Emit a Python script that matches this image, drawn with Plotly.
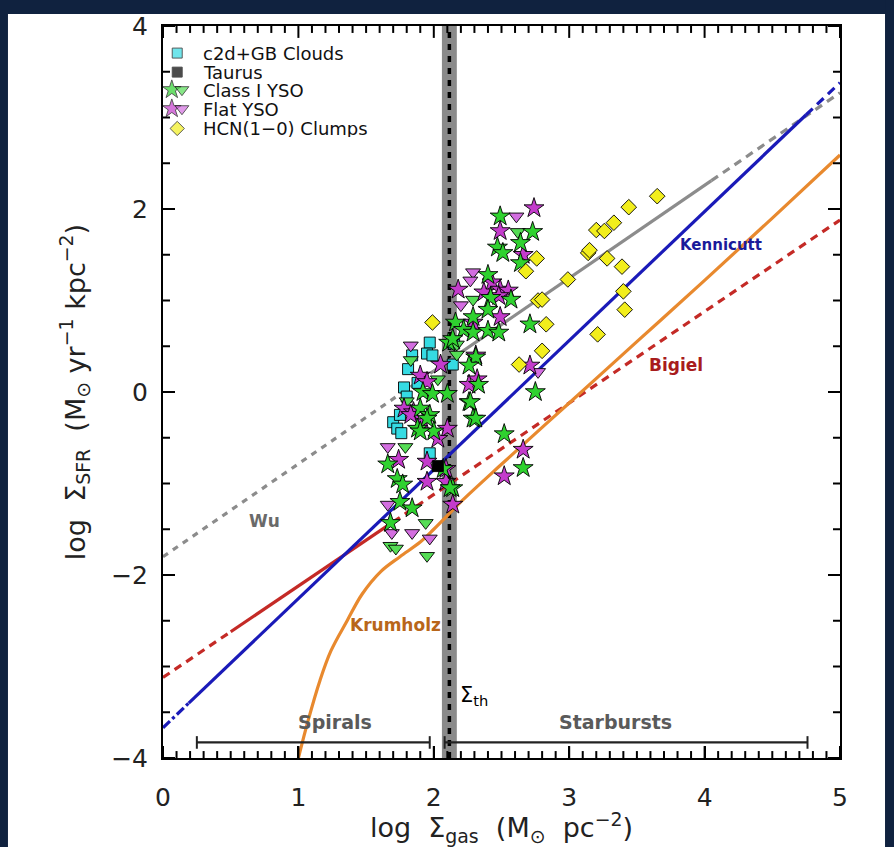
import plotly.graph_objects as go

# ---------------- data ----------------
# c2d+GB clouds (cyan squares)
c2d_x = [1.97, 1.95, 1.99, 1.81, 2.14, 1.78, 1.80, 1.70, 1.73, 1.76, 1.97, 2.15, 1.88, 1.75, 1.84]
c2d_y = [0.54, 0.42, 0.40, 0.25, 0.30, 0.05, -0.05, -0.33, -0.40, -0.45, -0.67, 0.53, 0.10, -0.25, 0.40]

# Taurus (black square)
taurus_x = [2.03]
taurus_y = [-0.81]

# Class I YSO - stars
c1s_x = [2.11, 2.31, 2.26, 2.33, 1.92, 1.99, 2.10, 2.26, 1.90, 1.97, 2.29, 1.88, 2.00, 1.95, 1.90,
         1.66, 2.07, 1.73, 1.77, 2.14, 1.75, 1.84, 1.68,
         2.49, 2.73, 2.47, 2.51, 2.64, 2.64, 2.40, 2.42, 2.57, 2.40, 2.29, 2.16, 2.22, 2.29, 2.40,
         2.48, 2.71, 2.14, 2.75, 2.27, 2.31, 2.52, 2.66, 2.12]
c1s_y = [0.54, 0.38, 0.29, 0.08, 0.00, -0.02, -0.02, -0.11, -0.18, -0.25, -0.29, -0.40, -0.43, -0.29, -0.43,
         -0.79, -0.84, -0.95, -1.01, -1.05, -1.20, -1.27, -1.43,
         1.92, 1.75, 1.58, 1.52, 1.63, 1.41, 1.28, 1.03, 1.01, 0.90, 0.82, 0.76, 0.68, 0.65, 0.67,
         0.65, 0.74, 0.58, 0.00, -0.11, -0.29, -0.46, -0.83, -1.05]

# Class I YSO - triangles
c1t_x = [1.83, 2.17, 2.17, 2.03, 2.62, 2.29, 1.79, 1.94, 1.68, 1.72, 1.95, 1.80]
c1t_y = [0.35, 0.52, 0.41, 0.14, 1.75, 1.01, -0.60, -1.43, -1.68, -1.71, -1.79, -0.10]

# Flat YSO - stars
fs_x = [2.05, 1.90, 1.95, 2.31, 2.32, 2.26, 1.78, 1.85, 1.92, 2.10, 1.83, 1.74, 1.95, 2.03, 1.95,
        2.09, 2.14, 2.74, 2.49, 2.66, 2.43, 2.49, 2.55, 2.18, 2.37, 2.48, 2.49, 2.29, 2.71, 2.66,
        2.52, 2.09]
fs_y = [0.30, 0.18, 0.11, 0.40, 0.14, 0.08, -0.18, -0.22, -0.33, -0.40, -0.25, -0.74, -0.76, -0.51, -0.98,
        -0.98, -1.23, 2.01, 1.76, 1.50, 1.20, 1.12, 1.11, 1.12, 1.09, 1.05, 0.82, 0.76, 0.29, -0.63,
        -0.92, -0.84]

# Flat YSO - triangles
ft_x = [1.83, 2.61, 2.29, 2.27, 2.20, 1.66, 1.66, 1.69, 1.84, 1.97, 2.77]
ft_y = [0.51, 1.92, 1.31, 1.22, 0.95, -0.60, -1.23, -1.54, -1.54, -1.60, 0.22]

# HCN(1-0) clumps (yellow diamonds)
hcn_x = [1.99, 2.63, 2.80, 2.83, 3.21, 3.41, 3.40, 2.77, 2.80, 2.99, 2.68, 2.76, 3.14, 3.15,
         3.28, 3.39, 3.20, 3.26, 3.33, 3.44, 3.65]
hcn_y = [0.76, 0.30, 0.45, 0.74, 0.63, 0.90, 1.10, 1.00, 1.01, 1.23, 1.32, 1.46, 1.52, 1.55,
         1.46, 1.37, 1.77, 1.76, 1.85, 2.02, 2.14]

# Relations (segment end points)
wu_dash1_x, wu_dash1_y = [0.0, 2.0], [-1.80, 0.23]
wu_solid_x, wu_solid_y = [2.0, 4.05], [0.23, 2.31]
wu_dash2_x, wu_dash2_y = [4.05, 5.0], [2.31, 3.27]

ken_dd_x, ken_dd_y = [0.0, 0.19], [-3.67, -3.40]
ken_solid_x, ken_solid_y = [0.19, 4.75], [-3.40, 3.03]
ken_dash_x, ken_dash_y = [4.75, 5.0], [3.03, 3.38]

big_dash1_x, big_dash1_y = [0.0, 0.5], [-3.12, -2.62]
big_solid_x, big_solid_y = [0.5, 1.7], [-2.62, -1.42]
big_dash2_x, big_dash2_y = [1.7, 5.0], [-1.42, 1.88]

kru_x = [1.00, 1.07, 1.16, 1.24, 1.36, 1.47, 1.61, 1.75, 1.90, 2.00, 2.10, 2.20, 2.50, 3.00, 3.50, 4.00, 4.50, 5.00]
kru_y = [-4.00, -3.60, -3.15, -2.83, -2.50, -2.21, -1.96, -1.80, -1.64, -1.50, -1.35, -1.20, -0.79, -0.12, 0.55, 1.22, 1.90, 2.59]

sigma_th_band = [2.06, 2.17]
sigma_th = 2.115
spirals_range = [0.25, 1.97]
starbursts_range = [2.08, 4.76]
range_y = -3.83

legend_labels = ["c2d+GB Clouds", "Taurus", "Class I YSO", "Flat YSO", "HCN(1\u22120) Clumps"]

# axis ranges / tick steps
X_RANGE, Y_RANGE = [0, 5], [-4, 4]
X_MAJOR, X_MINOR = 1, 0.1
Y_MAJOR, Y_MINOR = 2, 0.5

# ---------------- figure ----------------
FONT = "DejaVu Sans"
fig = go.Figure()


def line(x, y, color, dash="solid", width=3.2):
    fig.add_trace(go.Scatter(x=x, y=y, mode="lines", showlegend=False, hoverinfo="skip",
                             line=dict(color=color, width=width, dash=dash)))


GRAY = "#8c8c8c"
BLUE = "#1a1ab8"
RED = "#c42a26"
ORANGE = "#e8892e"
GREEN = "#2fd22f"
GREEN_T = "#55dd55"
MAGENTA = "#c43ccc"
MAGENTA_T = "#d36ee0"
CYAN = "#35dbe3"
YELLOW = "#f2ee1c"

line(wu_dash1_x, wu_dash1_y, GRAY, "6px,6px")
line(wu_solid_x, wu_solid_y, GRAY)
line(wu_dash2_x, wu_dash2_y, GRAY, "8px,6px")
line(big_dash1_x, big_dash1_y, RED, "8px,6px")
line(big_solid_x, big_solid_y, RED)
line(big_dash2_x, big_dash2_y, RED, "8px,6px")
fig.add_trace(go.Scatter(x=kru_x, y=kru_y, mode="lines", showlegend=False, hoverinfo="skip",
                         line=dict(color=ORANGE, width=3.2, shape="spline", smoothing=1.0)))
line(ken_dd_x, ken_dd_y, BLUE, "dashdot")
line(ken_solid_x, ken_solid_y, BLUE)
line(ken_dash_x, ken_dash_y, BLUE, "9px,6px")

# range bars (Spirals / Starbursts)
for rng in (spirals_range, starbursts_range):
    fig.add_trace(go.Scatter(x=rng, y=[range_y, range_y], mode="lines+markers", showlegend=False,
                             hoverinfo="skip", line=dict(color="#222222", width=2.2),
                             marker=dict(symbol="line-ns", size=9, line=dict(color="#222222", width=2))))

edge = dict(color="black", width=0.9)

fig.add_trace(go.Scatter(x=c2d_x, y=c2d_y, mode="markers", name=legend_labels[0], showlegend=False,
                         marker=dict(symbol="square", size=11, color=CYAN, line=edge)))
fig.add_trace(go.Scatter(x=c1t_x, y=c1t_y, mode="markers", showlegend=False,
                         marker=dict(symbol="triangle-down", size=13, color=GREEN_T, line=edge)))
fig.add_trace(go.Scatter(x=ft_x, y=ft_y, mode="markers", showlegend=False,
                         marker=dict(symbol="triangle-down", size=13, color=MAGENTA_T, line=edge)))
fig.add_trace(go.Scatter(x=fs_x, y=fs_y, mode="markers", showlegend=False,
                         marker=dict(symbol="star", size=15, color=MAGENTA, line=edge)))
fig.add_trace(go.Scatter(x=c1s_x, y=c1s_y, mode="markers", showlegend=False,
                         marker=dict(symbol="star", size=15, color=GREEN, line=edge)))
fig.add_trace(go.Scatter(x=hcn_x, y=hcn_y, mode="markers", showlegend=False,
                         marker=dict(symbol="diamond", size=12, color=YELLOW, line=edge)))
fig.add_trace(go.Scatter(x=taurus_x, y=taurus_y, mode="markers", showlegend=False,
                         marker=dict(symbol="square", size=11, color="black", line=edge)))

# ---- manual legend (keys drawn on an overlay axis spanning the plot area, 0..1) ----
row_y = [0.963, 0.937, 0.913, 0.887, 0.860]
key_x = [[0.021], [0.021], [0.013, 0.028], [0.013, 0.028], [0.021]]
key_sym = [["square"], ["square"], ["star", "triangle-down"], ["star", "triangle-down"], ["diamond"]]
key_col = [[CYAN], ["black"], [GREEN, GREEN_T], [MAGENTA, MAGENTA_T], [YELLOW]]
key_size = {"square": 10, "star": 14, "triangle-down": 12, "diamond": 11}
for i in range(len(legend_labels)):
    fig.add_trace(go.Scatter(x=key_x[i], y=[row_y[i]] * len(key_x[i]), mode="markers",
                             xaxis="x2", yaxis="y2", showlegend=False, hoverinfo="skip",
                             marker=dict(symbol=key_sym[i], color=key_col[i],
                                         size=[key_size[s] for s in key_sym[i]], line=edge)))
    fig.add_annotation(xref="x2", yref="y2", x=0.058, y=row_y[i], text=legend_labels[i],
                       showarrow=False, xanchor="left", yanchor="middle", height=18,
                       valign="middle", borderpad=0,
                       font=dict(family=FONT, size=18, color="#111111"))

# page background: white panel with dark frame strips
for x0, x1, y0, y1 in [(-0.30, -0.229, -0.2, 1.1), (-0.30, 1.12, 1.0163, 1.1), (1.0665, 1.12, -0.2, 1.1)]:
    fig.add_shape(type="rect", xref="paper", yref="paper", x0=x0, x1=x1, y0=y0, y1=y1,
                  fillcolor="#10223f", line=dict(width=0), layer="below")

# Sigma_th band and dashed line
fig.add_shape(type="rect", xref="x", yref="paper", x0=sigma_th_band[0], x1=sigma_th_band[1],
              y0=0, y1=1, fillcolor="#8a8a8a", line=dict(width=0), layer="below")
fig.add_shape(type="line", xref="x", yref="paper", x0=sigma_th, x1=sigma_th, y0=0, y1=1,
              line=dict(color="black", width=3.5, dash="6px,6px"), layer="below")

# inward ticks on all four sides (major + minor), drawn as short line shapes
PLOT_W, PLOT_H = 894 - 163 - 54, 847 - 20 - 89
tick_line = dict(color="black", width=2)
nx = int(round((X_RANGE[1] - X_RANGE[0]) / X_MINOR))
for k in range(nx + 1):
    v = X_RANGE[0] + k * X_MINOR
    major = abs(v / X_MAJOR - round(v / X_MAJOR)) < 1e-6
    ln = (12 if major else 7) / PLOT_H
    for a, b in ((0, ln), (1 - ln, 1)):
        fig.add_shape(type="line", xref="x", yref="paper", x0=v, x1=v, y0=a, y1=b, line=tick_line)
ny = int(round((Y_RANGE[1] - Y_RANGE[0]) / Y_MINOR))
for k in range(ny + 1):
    v = Y_RANGE[0] + k * Y_MINOR
    major = abs(v / Y_MAJOR - round(v / Y_MAJOR)) < 1e-6
    ln = (12 if major else 7) / PLOT_W
    for a, b in ((0, ln), (1 - ln, 1)):
        fig.add_shape(type="line", xref="paper", yref="y", x0=a, x1=b, y0=v, y1=v, line=tick_line)


# text labels
def label(x, y, text, color, size=17, bold=True, xanchor="center"):
    fig.add_annotation(x=x, y=y, text=f"<b>{text}</b>" if bold else text, showarrow=False,
                       font=dict(family=FONT, size=size, color=color), xanchor=xanchor)


label(0.75, -1.41, "Wu", "#6a6a6a")
label(4.12, 1.61, "Kennicutt", "#1a1a9a", size=15)
label(3.79, 0.30, "Bigiel", "#a81c1c")
label(1.72, -2.55, "Krumholz", "#b8661a")
label(1.27, -3.61, "Spirals", "#5a5a5a", size=19)
label(3.34, -3.61, "Starbursts", "#5a5a5a", size=19)
label(2.18, -3.32, "\u03a3<sub>th</sub>", "black", size=21, bold=False, xanchor="left")

axis_common = dict(showline=True, linecolor="black", linewidth=2, mirror=True,
                   ticks="inside", ticklen=12, tickwidth=2, tickcolor="black",
                   showgrid=False, zeroline=False,
                   tickfont=dict(family=FONT, size=25, color="#222222"))

fig.update_layout(
    xaxis=dict(range=X_RANGE, dtick=X_MAJOR, tick0=0, ticklabelstandoff=16,
               title=dict(text="log  \u03a3<sub>gas</sub>  (M<sub>\u2299</sub>  pc<sup>\u22122</sup>)",
                          font=dict(family=FONT, size=27, color="#222222"), standoff=2),
               **axis_common),
    yaxis=dict(range=Y_RANGE, dtick=Y_MAJOR, tick0=0, ticklabelstandoff=8,
               title=dict(text="log  \u03a3<sub>SFR</sub>  (M<sub>\u2299</sub> yr<sup>\u22121</sup> kpc<sup>\u22122</sup>)",
                          font=dict(family=FONT, size=27, color="#222222"), standoff=18),
               **axis_common),
    xaxis2=dict(overlaying="x", anchor="y2", range=[0, 1], visible=False, fixedrange=True),
    yaxis2=dict(overlaying="y", anchor="x2", range=[0, 1], visible=False, fixedrange=True),
    width=894, height=847,
    margin=dict(l=163, r=54, t=20, b=89),
    paper_bgcolor="white",
    plot_bgcolor="rgba(0,0,0,0)",
    showlegend=False,
    font=dict(family=FONT),
)

fig.write_html("out.html")
